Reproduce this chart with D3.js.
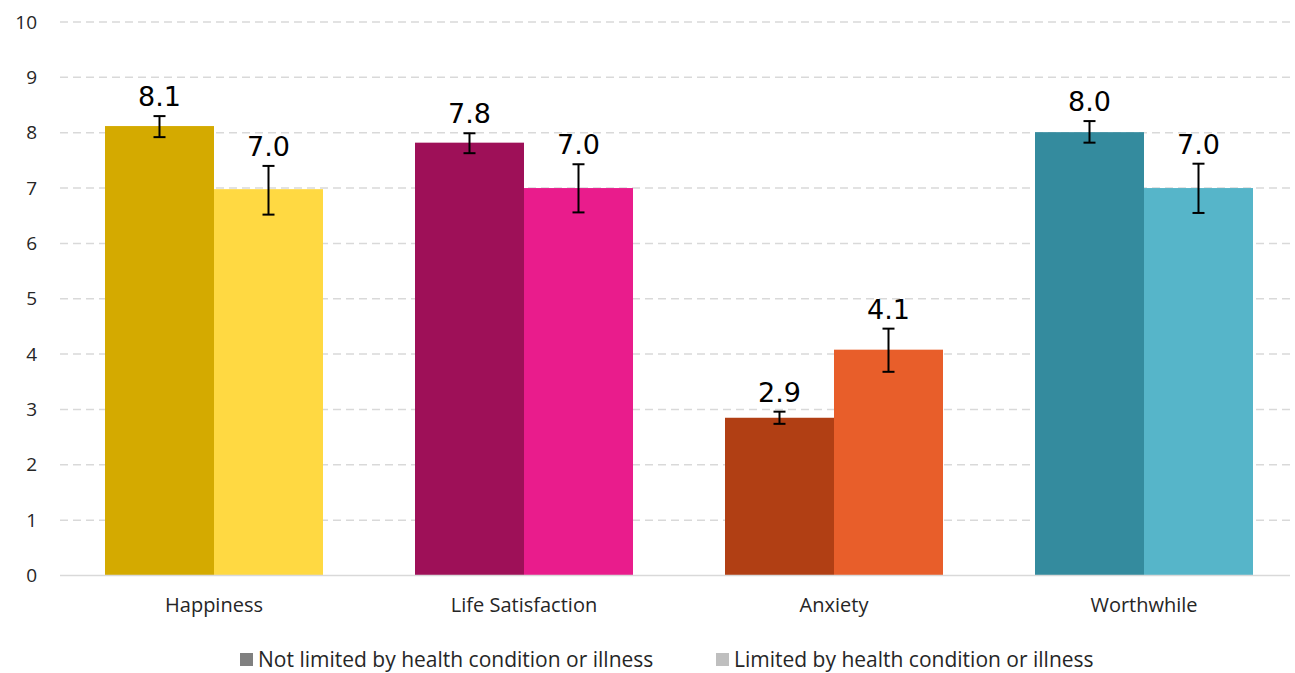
<!DOCTYPE html>
<html>
<head>
<meta charset="utf-8">
<script src="https://cdn.jsdelivr.net/npm/d3@7"></script>
<style>
  body { margin: 0; background: #fff; }
  .tick text { font-family: "Open Sans", sans-serif; }
</style>
</head>
<body>
<svg class="chart"></svg>
<script>
// chart values
var categories = ["Happiness", "Life Satisfaction", "Anxiety", "Worthwhile"];
var seriesNames = ["Not limited by health condition or illness", "Limited by health condition or illness"];
var notLimited = [8.12, 7.82, 2.85, 8.01];
var limited = [6.98, 7.0, 4.08, 7.0];
var notLimitedLow = [7.92, 7.63, 2.74, 7.82];
var notLimitedHigh = [8.30, 7.99, 2.96, 8.21];
var limitedLow = [6.52, 6.56, 3.68, 6.55];
var limitedHigh = [7.40, 7.43, 4.46, 7.44];
var yTicks = [0, 1, 2, 3, 4, 5, 6, 7, 8, 9, 10];

var darkColours = ["#d4aa00", "#9e1058", "#b13f14", "#348b9e"];
var lightColours = ["#ffd942", "#e91c8c", "#e85e2a", "#56b5c9"];
var legendColours = ["#808080", "#bfbfbf"];

var width = 1295,
    height = 673;

var svg = d3.select(".chart")
            .attr("width", width)
            .attr("height", height);

var x0 = d3.scaleBand().domain(categories).range([59, 1299]);
var x1 = d3.scaleBand().domain([0, 1]).range([46, x0.bandwidth() - 46]);
var y = d3.scaleLinear().domain([0, 10]).range([575.5, 22]);

// gridlines
svg.selectAll(".grid").data(yTicks.slice(1)).enter()
   .append("line")
   .attr("x1", 60).attr("x2", 1290)
   .attr("y1", function(d){ return y(d); })
   .attr("y2", function(d){ return y(d); })
   .attr("stroke", "#d9d9d9")
   .attr("stroke-width", 1.5)
   .attr("stroke-dasharray", "8,5");

// y axis labels
var yAxis = d3.axisLeft(y).tickValues(yTicks).tickSize(0).tickPadding(0);
svg.append("g").attr("transform", "translate(37,0)")
   .call(yAxis)
   .call(function(g){ g.select(".domain").remove(); })
   .selectAll("text")
   .attr("font-size", 19)
   .attr("fill", "#262626");

var rows = categories.map(function(c, i){
  return [
    {cat: c, s: 0, v: notLimited[i], lo: notLimitedLow[i], hi: notLimitedHigh[i], col: darkColours[i]},
    {cat: c, s: 1, v: limited[i], lo: limitedLow[i], hi: limitedHigh[i], col: lightColours[i]}
  ];
});
var flat = [].concat.apply([], rows);

function cx(d){ return x0(d.cat) + x1(d.s) + x1.bandwidth() / 2; }

svg.selectAll(".bar").data(flat).enter()
   .append("rect")
   .attr("x", function(d){ return x0(d.cat) + x1(d.s); })
   .attr("width", x1.bandwidth())
   .attr("y", function(d){ return y(d.v); })
   .attr("height", function(d){ return y(0) - y(d.v); })
   .attr("fill", function(d){ return d.col; });

// baseline
svg.append("line")
   .attr("x1", 60).attr("x2", 1290)
   .attr("y1", y(0)).attr("y2", y(0))
   .attr("stroke", "#d9d9d9").attr("stroke-width", 1.5);

// error bars
var err = svg.selectAll(".err").data(flat).enter().append("g").attr("stroke", "#000").attr("stroke-width", 2);
err.append("line")
   .attr("x1", cx).attr("x2", cx)
   .attr("y1", function(d){ return y(d.lo); })
   .attr("y2", function(d){ return y(d.hi); });
err.append("line")
   .attr("x1", function(d){ return cx(d) - 6; }).attr("x2", function(d){ return cx(d) + 6; })
   .attr("y1", function(d){ return y(d.lo); }).attr("y2", function(d){ return y(d.lo); });
err.append("line")
   .attr("x1", function(d){ return cx(d) - 6; }).attr("x2", function(d){ return cx(d) + 6; })
   .attr("y1", function(d){ return y(d.hi); }).attr("y2", function(d){ return y(d.hi); });

// value labels
svg.selectAll(".val").data(flat).enter()
   .append("text")
   .attr("x", cx)
   .attr("y", function(d){ return y(d.hi) - 10; })
   .attr("text-anchor", "middle")
   .attr("font-family", "DejaVu Sans, sans-serif")
   .attr("font-size", 27)
   .attr("fill", "#000")
   .text(function(d){ return d.v.toFixed(1); });

// category labels
var xAxis = d3.axisBottom(x0).tickSize(0).tickPadding(0);
svg.append("g").attr("transform", "translate(0,598)")
   .call(xAxis)
   .call(function(g){ g.select(".domain").remove(); })
   .selectAll("text")
   .attr("font-size", 20)
   .attr("fill", "#262626");

// legend
var legendX = [240, 716];
var legend = svg.selectAll(".legend").data(seriesNames).enter()
   .append("g")
   .attr("transform", function(d, i){ return "translate(" + legendX[i] + ",653)"; });
legend.append("rect").attr("width", 13).attr("height", 13)
   .attr("fill", function(d, i){ return legendColours[i]; });
legend.append("text")
   .attr("x", 18).attr("y", 13.5)
   .attr("font-family", "Open Sans, sans-serif")
   .attr("font-size", 21)
   .attr("fill", "#262626")
   .text(function(d){ return d; });
</script>
</body>
</html>
